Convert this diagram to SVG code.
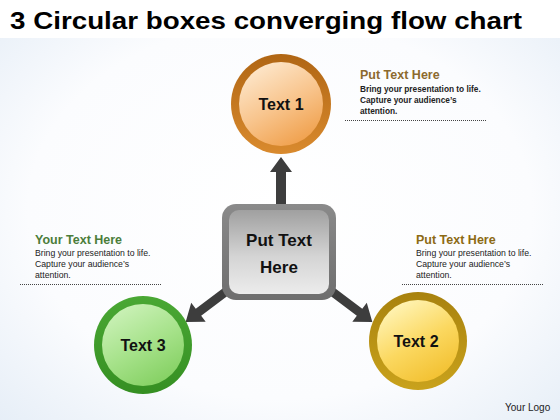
<svg xmlns="http://www.w3.org/2000/svg" width="560" height="420" viewBox="0 0 560 420">
<defs>
<radialGradient id="bg" cx="0.5" cy="0.5" r="0.75">
<stop offset="0" stop-color="#ffffff"/><stop offset="0.6" stop-color="#fbfcfe"/><stop offset="1" stop-color="#e3ecf6"/>
</radialGradient>
<linearGradient id="ring1" x1="0" y1="0" x2="0" y2="1"><stop offset="0" stop-color="#b06614"/><stop offset="1" stop-color="#d98a2e"/></linearGradient>
<linearGradient id="in1" x1="0.2" y1="0.1" x2="0.7" y2="1"><stop offset="0" stop-color="#fde4c6"/><stop offset="0.5" stop-color="#f8c48c"/><stop offset="1" stop-color="#f0a04c"/></linearGradient>
<linearGradient id="ring2" x1="0" y1="0" x2="0" y2="1"><stop offset="0" stop-color="#a8820e"/><stop offset="1" stop-color="#c9a21c"/></linearGradient>
<linearGradient id="in2" x1="0.2" y1="0.1" x2="0.7" y2="1"><stop offset="0" stop-color="#fff2b0"/><stop offset="0.5" stop-color="#fbd860"/><stop offset="1" stop-color="#f2c030"/></linearGradient>
<linearGradient id="ring3" x1="0" y1="0" x2="0" y2="1"><stop offset="0" stop-color="#4aa834"/><stop offset="1" stop-color="#358f22"/></linearGradient>
<linearGradient id="in3" x1="0.2" y1="0.1" x2="0.7" y2="1"><stop offset="0" stop-color="#c8f0b4"/><stop offset="0.5" stop-color="#a6e28a"/><stop offset="1" stop-color="#84d062"/></linearGradient>
<linearGradient id="boxo" x1="0" y1="0" x2="0" y2="1"><stop offset="0" stop-color="#8a8a8a"/><stop offset="1" stop-color="#6e6e6e"/></linearGradient>
<linearGradient id="boxi" x1="0" y1="0" x2="0" y2="1"><stop offset="0" stop-color="#a0a0a0"/><stop offset="0.55" stop-color="#d4d4d4"/><stop offset="1" stop-color="#ececec"/></linearGradient>
</defs>
<style>
.title{font-family:"Liberation Sans",Arial,sans-serif;font-weight:bold;font-size:24px;fill:#000}
.head{font-family:"Liberation Sans",Arial,sans-serif;font-weight:bold;font-size:12.5px}
.body{font-family:"Liberation Sans",Arial,sans-serif;font-size:8.7px;fill:#222}
.bodyb{font-family:"Liberation Sans",Arial,sans-serif;font-size:8.3px;font-weight:bold;fill:#222}
.lab{font-family:"Liberation Sans",Arial,sans-serif;font-weight:bold;font-size:16px;fill:#111;text-anchor:middle}
.dot{stroke:#444;stroke-width:1;stroke-dasharray:1 1;fill:none}
.arrow{fill:#3d3d3d}
</style>
<rect width="560" height="420" fill="url(#bg)"/>
<rect width="560" height="38" fill="#ffffff"/>
<text class="title" x="10" y="29" textLength="512" lengthAdjust="spacingAndGlyphs">3 Circular boxes converging flow chart</text>

<g id="connectors">
<polygon class="arrow" points="276,207 276,172 270,172 281,157 292,172 286,172 286,207"/>
<polygon class="arrow" transform="rotate(53 228 290)" points="223.5,290 223.5,327 216,327 228,343 240,327 232.5,327 232.5,290"/>
<polygon class="arrow" transform="rotate(-53 330 290)" points="325.5,290 325.5,327 318,327 330,343 342,327 334.5,327 334.5,290"/>
</g>

<g id="center">
<rect x="222" y="204" width="114" height="96" rx="14" fill="url(#boxo)"/>
<rect x="229" y="210" width="100" height="84" rx="10" fill="url(#boxi)"/>
<text class="lab" x="279" y="246" style="font-size:17px">Put Text</text>
<text class="lab" x="279" y="273" style="font-size:17px">Here</text>
</g>

<g id="node1">
<circle cx="281" cy="104" r="50" fill="url(#ring1)"/>
<circle cx="281" cy="104" r="42" fill="url(#in1)"/>
<text class="lab" x="281" y="110">Text 1</text>
</g>

<g id="node2">
<circle cx="418" cy="341" r="49" fill="url(#ring2)"/>
<circle cx="418" cy="341" r="41" fill="url(#in2)"/>
<text class="lab" x="416" y="347">Text 2</text>
</g>

<g id="node3">
<circle cx="143" cy="345" r="49" fill="url(#ring3)"/>
<circle cx="143" cy="345" r="41" fill="url(#in3)"/>
<text class="lab" x="143" y="351">Text 3</text>
</g>

<g id="note1">
<text class="head" x="360" y="79" fill="#8c6a2e">Put Text Here</text>
<text class="bodyb" x="360" y="92">Bring your presentation to life.</text>
<text class="bodyb" x="360" y="103">Capture your audience’s</text>
<text class="bodyb" x="360" y="114">attention.</text>
<line class="dot" x1="345" y1="120.5" x2="486" y2="120.5"/>
</g>

<g id="note3">
<text class="head" x="35" y="244" fill="#4b7d3a">Your Text Here</text>
<text class="body" x="35" y="256">Bring your presentation to life.</text>
<text class="body" x="35" y="267">Capture your audience’s</text>
<text class="body" x="35" y="278">attention.</text>
<line class="dot" x1="20" y1="284.5" x2="161" y2="284.5"/>
</g>

<g id="note2">
<text class="head" x="416" y="244" fill="#8c6a14">Put Text Here</text>
<text class="body" x="416" y="256">Bring your presentation to life.</text>
<text class="body" x="416" y="267">Capture your audience’s</text>
<text class="body" x="416" y="278">attention.</text>
<line class="dot" x1="402" y1="284.5" x2="543" y2="284.5"/>
</g>

<text class="body" x="505" y="411" style="font-size:10px" fill="#333">Your Logo</text>
</svg>
